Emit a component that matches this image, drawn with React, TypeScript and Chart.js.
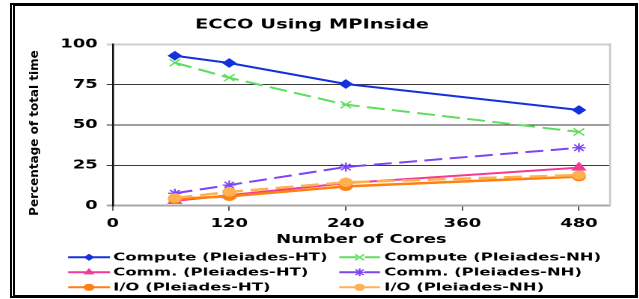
import React, { useEffect, useRef } from 'react';
import { Chart, registerables } from 'chart.js';

Chart.register(...registerables);

// ---------- data ----------
const cores = [64, 120, 240, 480];
const computeHT = [92.9, 88.4, 75.4, 59.3];
const computeNH = [88.6, 79.3, 62.6, 45.7];
const commHT = [3.0, 6.5, 14.0, 23.6];
const commNH = [7.7, 12.8, 24.0, 35.9];
const ioHT = [4.2, 5.8, 12.0, 18.0];
const ioNH = [4.8, 8.5, 14.5, 19.0];
const seriesLabels = [
  'Compute (Pleiades-HT)',
  'Compute (Pleiades-NH)',
  'Comm. (Pleiades-HT)',
  'Comm. (Pleiades-NH)',
  'I/O (Pleiades-HT)',
  'I/O (Pleiades-NH)',
];
const xTickValues = [0, 120, 240, 360, 480];
const chartTitle = 'ECCO Using MPInside';
const xTitle = 'Number of Cores';
const yTitle = 'Percentage of total time';

// ---------- geometry (internal canvas units; canvas is stretched horizontally) ----------
const CSS_W = 620;
const CSS_H = 289;
const W = 414;
const H = 289;
const K = CSS_W / W;
const PLOT_L = 65.9;
const PLOT_R = 398;
const PLOT_B = 199.7;
const FONT = "'DejaVu Sans', Verdana, sans-serif";

const BLUE = '#1432dc';
const GREEN = '#5fdd5f';
const PINK = '#f23a96';
const PURPLE = '#7f45f5';
const ORANGE = '#ff7f10';
const LORANGE = '#ffb04f';

const pts = (ys: number[]) => cores.map((x, i) => ({ x, y: ys[i] }));

function drawMarker(ctx: CanvasRenderingContext2D, style: string, x: number, y: number, r: number, color: string, bw: number) {
  ctx.save();
  ctx.fillStyle = color;
  ctx.strokeStyle = color;
  ctx.lineWidth = bw;
  ctx.setLineDash([]);
  ctx.beginPath();
  const d = r * Math.SQRT1_2;
  switch (style) {
    case 'rectRot':
      ctx.moveTo(x, y - r); ctx.lineTo(x + r, y); ctx.lineTo(x, y + r); ctx.lineTo(x - r, y);
      ctx.closePath(); ctx.fill(); break;
    case 'triangle':
      ctx.moveTo(x, y - r); ctx.lineTo(x + 0.866 * r, y + 0.5 * r); ctx.lineTo(x - 0.866 * r, y + 0.5 * r);
      ctx.closePath(); ctx.fill(); break;
    case 'circle':
      ctx.arc(x, y, r, 0, Math.PI * 2); ctx.fill(); break;
    case 'crossRot':
      ctx.moveTo(x - d, y - d); ctx.lineTo(x + d, y + d); ctx.moveTo(x + d, y - d); ctx.lineTo(x - d, y + d);
      ctx.stroke(); break;
    case 'star':
      ctx.moveTo(x, y - r); ctx.lineTo(x, y + r); ctx.moveTo(x - r, y); ctx.lineTo(x + r, y);
      ctx.moveTo(x - d, y - d); ctx.lineTo(x + d, y + d); ctx.moveTo(x + d, y - d); ctx.lineTo(x - d, y + d);
      ctx.stroke(); break;
  }
  ctx.restore();
}

const extrasPlugin = {
  id: 'extras',
  beforeDatasetsDraw(chart: any) {
    const { ctx, chartArea } = chart;
    ctx.save();
    ctx.strokeStyle = '#c8c8c8';
    ctx.lineWidth = 1.3;
    ctx.beginPath();
    ctx.moveTo(chartArea.right, chartArea.top - 1);
    ctx.lineTo(chartArea.right, chartArea.bottom);
    ctx.stroke();
    ctx.restore();
  },
  afterDraw(chart: any) {
    const { ctx } = chart;
    // rotated y title, counter-scaled so it is not stretched
    ctx.save();
    ctx.translate(14, 127);
    ctx.scale(1 / K, 1);
    ctx.rotate(-Math.PI / 2);
    ctx.fillStyle = '#000';
    ctx.font = `bold 12px ${FONT}`;
    ctx.textAlign = 'center';
    ctx.textBaseline = 'middle';
    ctx.fillText(yTitle, 0, 0);
    ctx.restore();

    // legend: 3 rows x 2 columns
    const rowsY = [251.3, 266.3, 281.3];
    const lineStart = [36.1, 217.2];
    const lineEnd = [64.1, 244.4];
    const textX = [66.3, 247.3];
    chart.data.datasets.forEach((ds: any, i: number) => {
      const col = i % 2;
      const row = Math.floor(i / 2);
      const y = rowsY[row];
      ctx.save();
      ctx.strokeStyle = ds.borderColor;
      ctx.lineWidth = 2;
      ctx.setLineDash(ds.borderDash || []);
      ctx.beginPath();
      ctx.moveTo(lineStart[col], y);
      ctx.lineTo(lineEnd[col], y);
      ctx.stroke();
      ctx.restore();
      drawMarker(ctx, ds.pointStyle, (lineStart[col] + lineEnd[col]) / 2, y, ds.pointRadius * 0.85, ds.borderColor, 1.2);
      ctx.save();
      ctx.fillStyle = '#000';
      ctx.font = `bold 11px ${FONT}`;
      ctx.textAlign = 'left';
      ctx.textBaseline = 'middle';
      ctx.fillText(ds.label, textX[col], y + 0.5);
      ctx.restore();
    });
  },
};

export default function App() {
  const ref = useRef<HTMLCanvasElement>(null);
  useEffect(() => {
    const mk = (i: number, ys: number[], color: string, dash: number[], style: string, r: number, order: number, lw = 2) => ({
      label: seriesLabels[i],
      data: pts(ys),
      borderColor: color,
      backgroundColor: color,
      borderWidth: lw,
      borderDash: dash,
      pointStyle: style,
      pointRadius: r,
      pointBorderWidth: style === 'crossRot' || style === 'star' ? 1.2 : 1,
      pointBackgroundColor: color,
      pointBorderColor: color,
      tension: 0,
      fill: false,
      order,
    });
    const chart = new Chart(ref.current!, {
      type: 'line',
      data: {
        datasets: [
          mk(0, computeHT, BLUE, [], 'rectRot', 4.2, 2),
          mk(1, computeNH, GREEN, [12, 5], 'crossRot', 5, 3),
          mk(2, commHT, PINK, [], 'triangle', 5, 4),
          mk(3, commNH, PURPLE, [12, 5], 'star', 4.5, 5),
          mk(4, ioHT, ORANGE, [], 'circle', 4.2, 1, 2.5),
          mk(5, ioNH, LORANGE, [12, 5], 'circle', 4.2, 0, 2.5),
        ] as any,
      },
      options: {
        responsive: false,
        animation: false,
        devicePixelRatio: 2,
        layout: { padding: { left: 0, right: W - PLOT_R, top: 0, bottom: 0 } },
        plugins: {
          legend: { display: false },
          tooltip: { enabled: false },
          title: {
            display: true,
            text: chartTitle,
            color: '#000',
            font: { family: FONT, size: 13, weight: 'bold' },
            padding: { top: 11.2, bottom: 11.5 },
          },
        },
        scales: {
          x: {
            type: 'linear',
            min: 0,
            max: 512,
            afterBuildTicks: (scale: any) => {
              scale.ticks = xTickValues.map((v) => ({ value: v }));
            },
            afterFit: (scale: any) => {
              scale.height = H - PLOT_B;
            },
            ticks: {
              color: '#000',
              font: { family: FONT, size: 12, weight: 'bold' },
              padding: 6.1,
              maxRotation: 0,
              autoSkip: false,
            },
            grid: {
              drawOnChartArea: false,
              drawTicks: true,
              tickLength: 5,
              color: '#333',
              lineWidth: 0.8,
            },
            border: { display: true, color: '#a8a8a8', width: 2 },
            title: {
              display: true,
              text: xTitle,
              color: '#000',
              font: { family: FONT, size: 12, weight: 'bold' },
              padding: { top: 0, bottom: H - 7.2 - 234 },
            },
          },
          y: {
            type: 'linear',
            min: 0,
            max: 100,
            afterFit: (scale: any) => {
              scale.width = PLOT_L;
            },
            ticks: {
              stepSize: 25,
              color: '#000',
              font: { family: FONT, size: 12, weight: 'bold' },
              padding: 6,
            },
            grid: {
              tickLength: 4,
              color: (c: any) => (c.tick.value === 0 ? '#a8a8a8' : c.tick.value === 100 ? '#cfcfcf' : '#3a3a3a'),
              lineWidth: (c: any) => (c.tick.value === 0 || c.tick.value === 100 ? 2 : 1),
            },
            border: { display: true, color: '#111', width: 1.3 },
          },
        },
      } as any,
      plugins: [extrasPlugin],
    });
    return () => chart.destroy();
  }, []);

  return (
    <div style={{ position: 'fixed', left: 0, top: 0, width: 639, height: 299, background: '#fff' }}>
      <div
        style={{
          position: 'absolute',
          left: 10,
          top: 3,
          width: 628,
          height: 295,
          boxSizing: 'border-box',
          borderTop: '3px solid #000',
          borderRight: '3px solid #000',
          borderBottom: '3px solid #000',
          borderLeft: '5px double #000',
        }}
      />
      <canvas
        ref={ref}
        width={W}
        height={H}
        style={{ position: 'absolute', left: 14, top: 6, width: `${CSS_W}px`, height: `${CSS_H}px` }}
      />
    </div>
  );
}
